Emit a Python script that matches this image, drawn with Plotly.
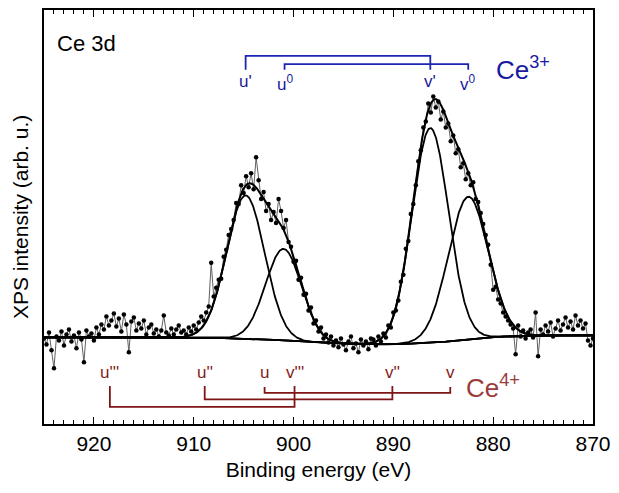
import numpy as np
import plotly.graph_objects as go

# ---------------- data ----------------
E_START, E_STOP, E_STEP = 925.0, 870.0, -0.25
energy = np.round(np.arange(E_START, E_STOP + E_STEP / 2, E_STEP), 2)

intensity = [
    # 925.00 -> 911.25
    86, 80, 92, 74, 56, 88, 84, 93, 79, 90, 95, 83, 89, 76, 92, 85, 62, 94, 88, 91,
    84, 97, 90, 100, 95, 108, 99, 104, 111, 98, 106, 93, 110, 100, 72, 103, 107, 94, 101, 96,
    104, 90, 97, 100, 91, 95, 88, 94, 109, 92, 89, 96, 90, 95, 99, 92,
    # 911.00 -> 896.00
    94, 90, 97, 93, 99, 95, 102, 108, 104, 112, 118, 162, 128, 137, 145, 146, 168, 175, 190, 196,
    205, 222, 221, 240, 232, 249, 238, 252, 236, 268, 245, 226, 233, 214, 221, 205, 213, 202, 226, 214,
    197, 205, 183, 178, 163, 164, 145, 147, 130, 131, 114, 117, 101, 104, 93, 97, 86, 90, 82, 88, 79,
    # 895.75 -> 892.25
    84, 77, 86, 80, 74, 83, 88, 76, 81, 72, 85, 79, 83, 75, 86,
    # 892.00 -> 876.00
    85, 79, 88, 83, 91, 87, 99, 97, 112, 114, 124, 143, 150, 176, 184, 211, 221, 240, 264, 275,
    298, 304, 322, 313, 329, 318, 324, 306, 314, 298, 302, 284, 290, 272, 276, 258, 262, 246, 252, 240,
    243, 226, 223, 212, 201, 190, 180, 160, 135, 138, 125, 121, 112, 108, 104, 100, 96, 70, 99, 88,
    94, 86, 92, 95, 87,
    # 875.75 -> 870.00
    112, 68, 95, 90, 99, 93, 102, 88, 96, 104, 94, 100, 107, 97, 103, 95, 109, 99, 104, 96,
    101, 84, 79, 86,
]

# fit model: background knots and peak table
bg_energy = [925, 910, 904, 901, 897, 893, 890, 888, 886, 884, 882, 880, 878, 875, 870]
bg_level = [87, 87, 85.5, 84, 81.5, 80.3, 80, 80.8, 81.5, 83.5, 86, 87.5, 88.2, 89, 89]
peak_center = [904.8, 901.0, 886.3, 882.5]
peak_height = [144, 92, 216, 143]
peak_fwhm = [4.47, 4.24, 4.31, 4.71]

# assignment brackets
ce3_names = ["u'", "u<sup>0</sup>", "v'", "v<sup>0</sup>"]
ce3_pos = [904.8, 900.9, 886.3, 882.5]
ce4_names = ["u'''", "u''", "u", "v'''", "v''", "v"]
ce4_pos = [918.4, 908.9, 902.9, 899.9, 890.1, 884.3]

# ---------------- figure ----------------
fig = go.Figure()

fig.add_trace(go.Scatter(
    x=energy, y=intensity, mode="lines+markers",
    line=dict(color="#606060", width=1),
    marker=dict(color="black", size=4.5),
    showlegend=False, hoverinfo="skip"))

grid = np.linspace(E_START, E_STOP, 1101)
bg = np.interp(grid[::-1], bg_energy[::-1], bg_level[::-1])[::-1]
comps = []
for c, h, w in zip(peak_center, peak_height, peak_fwhm):
    s = w / 2.3548
    comps.append(h * np.exp(-0.5 * ((grid - c) / s) ** 2))

fitline = dict(color="black", width=1.8)
fig.add_trace(go.Scatter(x=grid, y=bg, mode="lines", line=fitline, showlegend=False, hoverinfo="skip"))
for comp in comps:
    fig.add_trace(go.Scatter(x=grid, y=bg + comp, mode="lines", line=fitline,
                             showlegend=False, hoverinfo="skip"))
fig.add_trace(go.Scatter(x=grid, y=bg + sum(comps), mode="lines", line=dict(color="black", width=2),
                         showlegend=False, hoverinfo="skip"))

BLUE_LINE, BLUE_TXT = "#1c24b4", "#1a1a9e"
RED_LINE, RED_TXT, RED_CE = "#7e1616", "#861c1c", "#9a3c3c"

# Ce3+ brackets (u' - v', u0 - v0)
ce3_pairs = [(0, 2, 356, 370), (1, 3, 356, 361.7)]
for a, b, lo, hi in ce3_pairs:
    fig.add_trace(go.Scatter(x=[ce3_pos[a], ce3_pos[a], ce3_pos[b], ce3_pos[b]],
                             y=[lo, hi, hi, lo], mode="lines",
                             line=dict(color=BLUE_LINE, width=1.8),
                             showlegend=False, hoverinfo="skip"))
# Ce4+ brackets (u''' - v''', u'' - v'', u - v)
ce4_pairs = [(0, 3, 38.3, 17.3), (1, 4, 38.3, 24.7), (2, 5, 37.3, 31.3)]
for a, b, top, bot in ce4_pairs:
    fig.add_trace(go.Scatter(x=[ce4_pos[a], ce4_pos[a], ce4_pos[b], ce4_pos[b]],
                             y=[top, bot, bot, top], mode="lines",
                             line=dict(color=RED_LINE, width=1.8),
                             showlegend=False, hoverinfo="skip"))

ann = []
for n, p in zip(ce3_names, ce3_pos):
    ann.append(dict(x=p, y=356, xref="x", yref="y", text=n, showarrow=False,
                    yanchor="top", font=dict(size=17, color=BLUE_TXT)))
for n, p in zip(ce4_names, ce4_pos):
    ann.append(dict(x=p, y=40, xref="x", yref="y", text=n, showarrow=False,
                    yanchor="bottom", font=dict(size=17, color=RED_TXT)))
ann.append(dict(x=0.819, y=0.858, xref="paper", yref="paper", text="Ce<sup>3+</sup>",
                showarrow=False, xanchor="left", yanchor="middle",
                font=dict(size=26, color=BLUE_TXT)))
ann.append(dict(x=0.765, y=0.09, xref="paper", yref="paper", text="Ce<sup>4+</sup>",
                showarrow=False, xanchor="left", yanchor="middle",
                font=dict(size=26, color=RED_CE)))
ann.append(dict(x=0.02, y=0.92, xref="paper", yref="paper", text="Ce 3d",
                showarrow=False, xanchor="left", yanchor="middle",
                font=dict(size=22, color="black")))
ann.append(dict(x=0, y=0.5, xref="paper", yref="paper", text="XPS intensity (arb. u.)",
                showarrow=False, xanchor="center", yanchor="middle", textangle=-90,
                xshift=-24, font=dict(size=21, color="black")))

fig.update_layout(
    width=619, height=493,
    margin=dict(l=44, r=18, t=8, b=69),
    paper_bgcolor="white", plot_bgcolor="white",
    font=dict(family="Liberation Sans, Arial, sans-serif", size=21, color="black"),
    annotations=ann,
    showlegend=False,
)
fig.update_xaxes(
    range=[925, 870], showgrid=False, zeroline=False,
    showline=True, linecolor="black", linewidth=1.5, mirror="ticks",
    ticks="inside", ticklen=7, tickwidth=1.2, tickcolor="black",
    tick0=870, dtick=10,
    minor=dict(ticks="inside", ticklen=4, tickwidth=1, tickcolor="black", dtick=1, showgrid=False),
    tickfont=dict(size=21),
    title=dict(text="Binding energy (eV)", font=dict(size=21), standoff=8),
)
fig.update_yaxes(
    range=[0, 416], showgrid=False, zeroline=False,
    showline=True, linecolor="black", linewidth=1.5, mirror=True,
    ticks="", showticklabels=False,
)

fig.write_html("out.html")
